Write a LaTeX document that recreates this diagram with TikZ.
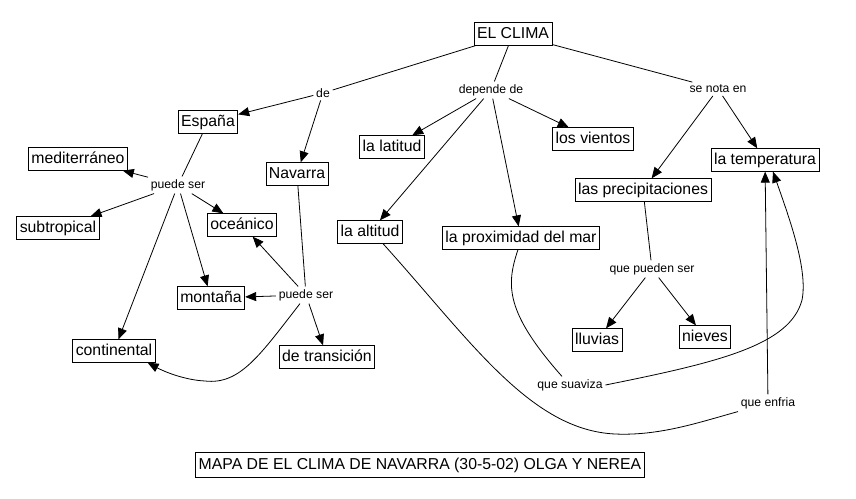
\documentclass[tikz,border=0pt]{standalone}
\usepackage{fontspec}
\setmainfont{Liberation Sans}
\usetikzlibrary{arrows.meta, positioning}

\begin{document}
\begin{tikzpicture}[
    x=1pt, y=-1pt,
    concept/.style={rectangle, draw, inner xsep=3pt, inner ysep=4pt, text height=11.5pt, text depth=3pt, font=\fontsize{15.8}{18}\selectfont},
    phrase/.style={inner sep=2.5pt, font=\fontsize{12.2}{14}\selectfont},
    arrow/.style={-{Triangle[length=11pt, width=9pt]}},
    line width=0.8pt
]
    \useasboundingbox (0,0) rectangle (856,498);

    % concepts
    \node[concept] (clima) at (513,34) {EL CLIMA};
    \node[concept] (espana) at (208,122) {España};
    \node[concept] (navarra) at (297,174) {Navarra};
    \node[concept] (latitud) at (392,147) {la latitud};
    \node[concept] (vientos) at (593,139) {los vientos};
    \node[concept] (temp) at (765,160) {la temperatura};
    \node[concept] (medit) at (78,159) {mediterráneo};
    \node[concept] (precip) at (643,190) {las precipitaciones};
    \node[concept] (subtrop) at (58,228) {subtropical};
    \node[concept] (oceanico) at (242,225) {oceánico};
    \node[concept] (altitud) at (370,232) {la altitud};
    \node[concept] (proximidad) at (521,238) {la proximidad del mar};
    \node[concept] (montana) at (211,298) {montaña};
    \node[concept] (continental) at (114,351) {continental};
    \node[concept] (transicion) at (327,357) {de transición};
    \node[concept] (lluvias) at (597,340) {lluvias};
    \node[concept] (nieves) at (705,337) {nieves};
    \node[concept, minimum height=25pt] (titulo) at (420,465) {MAPA DE EL CLIMA DE NAVARRA (30-5-02) OLGA Y NEREA};

    % linking phrases
    \node[phrase] (de) at (323,93) {de};
    \node[phrase] (depende) at (491,90) {depende de};
    \node[phrase] (senota) at (718,89) {se nota en};
    \node[phrase] (puedeE) at (178,185) {puede ser};
    \node[phrase] (puedeN) at (306,295) {puede ser};
    \node[phrase] (pueden) at (652,269) {que pueden ser};
    \node[phrase] (suaviza) at (570,385) {que suaviza};
    \node[phrase] (enfria) at (768,403) {que enfria};

    \draw (clima) -- (de);
    \draw[arrow] (de) -- (espana);
    \draw[arrow] (de) -- (navarra);
    \draw (clima) -- (depende);
    \draw[arrow] (depende) -- (latitud);
    \draw[arrow] (depende) -- (altitud);
    \draw[arrow] (depende) -- (proximidad);
    \draw[arrow] (depende) -- (vientos);
    \draw (clima) -- (senota);
    \draw[arrow] (senota) -- (precip);
    \draw[arrow] (senota) -- (temp);

    \draw (espana) -- (puedeE);
    \draw[arrow] (puedeE) -- (medit);
    \draw[arrow] (puedeE) -- (subtrop);
    \draw[arrow] (puedeE) -- (oceanico);
    \draw[arrow] (puedeE) -- (montana);
    \draw[arrow] (puedeE) -- (continental);

    \draw (navarra) -- (puedeN);
    \draw[arrow] (puedeN) -- (oceanico);
    \draw[arrow] (puedeN) -- (montana);
    \draw[arrow] (puedeN) -- (transicion);
    \draw[arrow] ([xshift=-6pt]puedeN.south) .. controls (260,355) and (240,385) .. (205,381)
        .. controls (185,380) and (165,372) .. ([xshift=-8pt]continental.south east);

    \draw (precip) -- (pueden);
    \draw[arrow] (pueden) -- (lluvias);
    \draw[arrow] (pueden) -- (nieves);

    % curved links to la temperatura
    \draw ([xshift=-3pt]proximidad.south) .. controls (506,285) and (505,312) .. ([xshift=-8pt]suaviza.north);
    \draw[arrow] (suaviza.east) .. controls (720,362) and (790,345) .. (802,300)
        .. controls (808,270) and (790,220) .. ([xshift=8pt]temp.south);
    \draw ([xshift=13pt]altitud.south) .. controls (470,340) and (530,430) .. (615,434)
        .. controls (660,436) and (700,422) .. (enfria.south west);
    \draw[arrow] (enfria) -- (temp);
\end{tikzpicture}
\end{document}
